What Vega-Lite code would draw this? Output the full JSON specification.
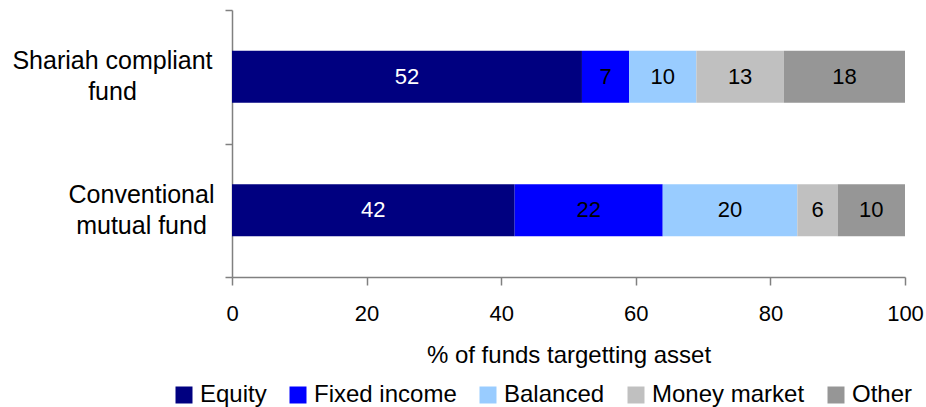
{
  "$schema": "https://vega.github.io/schema/vega-lite/v6.json",
  "width": 673,
  "height": 267,
  "autosize": {"type": "none"},
  "padding": {"left": 232, "top": 10, "right": 21, "bottom": 130},
  "background": "white",
  "config": {
    "view": {"stroke": null},
    "font": "Liberation Sans",
    "axis": {
      "domainColor": "#808080",
      "domainWidth": 1.5,
      "tickColor": "#808080",
      "tickWidth": 1.5,
      "labelColor": "black",
      "titleColor": "black",
      "grid": false
    }
  },
  "data": {
    "values": [
      {"fund": "Shariah compliant fund", "asset": "Equity", "rank": 1, "pct": 52},
      {"fund": "Shariah compliant fund", "asset": "Fixed income", "rank": 2, "pct": 7},
      {"fund": "Shariah compliant fund", "asset": "Balanced", "rank": 3, "pct": 10},
      {"fund": "Shariah compliant fund", "asset": "Money market", "rank": 4, "pct": 13},
      {"fund": "Shariah compliant fund", "asset": "Other", "rank": 5, "pct": 18},
      {"fund": "Conventional mutual fund", "asset": "Equity", "rank": 1, "pct": 42},
      {"fund": "Conventional mutual fund", "asset": "Fixed income", "rank": 2, "pct": 22},
      {"fund": "Conventional mutual fund", "asset": "Balanced", "rank": 3, "pct": 20},
      {"fund": "Conventional mutual fund", "asset": "Money market", "rank": 4, "pct": 6},
      {"fund": "Conventional mutual fund", "asset": "Other", "rank": 5, "pct": 10}
    ]
  },
  "encoding": {
    "y": {
      "field": "fund",
      "type": "nominal",
      "sort": ["Shariah compliant fund", "Conventional mutual fund"],
      "scale": {"paddingInner": 0, "paddingOuter": 0},
      "axis": {
        "title": null,
        "tickBand": "extent",
        "tickSize": 7,
        "labelFontSize": 25,
        "labelLineHeight": 31,
        "labelAlign": "center",
        "labelBaseline": "middle",
        "labelOffset": -16,
        "labelLimit": 400,
        "labelPadding": {"condition": {"test": "datum.value == 'Shariah compliant fund'", "value": 113}, "value": 84},
        "labelExpr": "datum.value == 'Shariah compliant fund' ? ['Shariah compliant', 'fund'] : datum.value == 'Conventional mutual fund' ? ['Conventional', 'mutual fund'] : ''"
      }
    },
    "x": {
      "field": "pct",
      "type": "quantitative",
      "stack": "zero",
      "scale": {"domain": [0, 100], "nice": false},
      "axis": {
        "title": "% of funds targetting asset",
        "values": [0, 20, 40, 60, 80, 100],
        "tickSize": 8,
        "labelFontSize": 22,
        "labelPadding": 18,
        "labelFlush": false,
        "titleFontSize": 24,
        "titleFontWeight": "normal",
        "titlePadding": 19
      }
    },
    "order": {"field": "rank", "type": "quantitative"}
  },
  "layer": [
    {
      "mark": {"type": "bar", "height": {"band": 0.39}},
      "encoding": {
        "color": {
          "field": "asset",
          "type": "nominal",
          "scale": {
            "domain": ["Equity", "Fixed income", "Balanced", "Money market", "Other"],
            "range": ["#000080", "#0000FF", "#99CCFF", "#C0C0C0", "#969696"]
          },
          "legend": {
            "title": null,
            "orient": "none",
            "direction": "horizontal",
            "legendX": -60,
            "legendY": 373,
            "symbolType": "square",
            "symbolSize": 289,
            "symbolStrokeWidth": 0,
            "symbolOpacity": 1,
            "labelFontSize": 24,
            "labelColor": "black",
            "labelOffset": 4,
            "columnPadding": 19,
            "labelLimit": 400
          }
        }
      }
    },
    {
      "mark": {"type": "text", "fontSize": 22, "baseline": "middle", "align": "center"},
      "encoding": {
        "x": {"field": "pct", "type": "quantitative", "stack": "zero", "bandPosition": 0.5},
        "detail": {"field": "asset"},
        "text": {"field": "pct", "type": "quantitative"},
        "color": {"condition": {"test": "datum.asset == 'Equity'", "value": "white"}, "value": "black"}
      }
    }
  ]
}
